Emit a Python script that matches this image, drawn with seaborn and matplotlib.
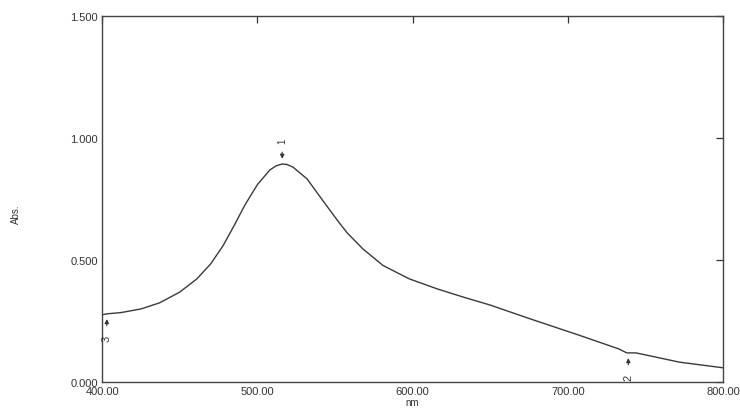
import matplotlib
matplotlib.use("Agg")
import matplotlib.pyplot as plt
import seaborn as sns
import pandas as pd

wavelength = [400, 403, 412, 425, 437, 450, 461, 470, 478, 485, 492, 500, 508,
              512, 516, 519, 523, 532, 543, 553, 558, 568, 581, 598, 616, 633,
              650, 676, 708, 733, 738, 744, 772, 800]
absorbance = [0.275, 0.279, 0.284, 0.299, 0.324, 0.368, 0.422, 0.484, 0.559,
              0.640, 0.725, 0.808, 0.868, 0.885, 0.893, 0.891, 0.880, 0.832,
              0.736, 0.650, 0.610, 0.545, 0.477, 0.422, 0.381, 0.347, 0.315,
              0.258, 0.190, 0.135, 0.119, 0.119, 0.081, 0.058]
x_ticks = [400, 500, 600, 700, 800]
x_tick_labels = ["400.00", "500.00", "600.00", "700.00", "800.00"]
y_ticks = [0.0, 0.5, 1.0, 1.5]
y_tick_labels = ["0.000", "0.500", "1.000", "1.500"]
peak_labels = ["1", "2", "3"]
peak_nm = [516, 739, 403]
peak_abs = [0.893, 0.119, 0.279]

sns.set_style("white")
plt.rcParams['font.family'] = ['Liberation Sans', 'DejaVu Sans']

df = pd.DataFrame({"nm": wavelength, "Abs.": absorbance})

fig = plt.figure(figsize=(7.4, 4.1), dpi=100)
ax = fig.add_axes([0.138, 0.066, 0.839, 0.893])
sns.lineplot(data=df, x="nm", y="Abs.", ax=ax, color="#3a3a3a", linewidth=1.0)

ax.set_xlim(400, 800)
ax.set_ylim(0, 1.5)
ax.set_xticks(x_ticks)
ax.set_xticklabels(x_tick_labels)
ax.set_yticks(y_ticks)
ax.set_yticklabels(y_tick_labels)
ax.tick_params(direction="in", length=5, width=0.9, labelsize=8, colors="#333333",
               top=True, right=True, pad=3)
for s in ax.spines.values():
    s.set_color("#444444")
    s.set_linewidth(1.0)
ax.set_xlabel("nm", fontsize=7, color="#333333", labelpad=1)
ax.set_ylabel("Abs.", fontsize=7, color="#333333")
ax.yaxis.set_label_coords(-0.13, 0.46)

# peak markers
for lab, xn, ya in zip(peak_labels, peak_nm, peak_abs):
    if lab == "1":
        ax.annotate("", xy=(xn, ya + 0.01), xytext=(xn, ya + 0.06),
                    arrowprops=dict(arrowstyle="-|>", color="#333333", lw=0.8,
                                    mutation_scale=6))
        ax.text(xn, ya + 0.095, lab, rotation=90, ha="center", va="center",
                fontsize=7, color="#333333")
    else:
        ax.annotate("", xy=(xn, ya - 0.01), xytext=(xn, ya - 0.06),
                    arrowprops=dict(arrowstyle="-|>", color="#333333", lw=0.8,
                                    mutation_scale=6))
        ax.text(xn, ya - 0.1, lab, rotation=90, ha="center", va="center",
                fontsize=8, color="#333333")

fig.savefig("out.png", dpi=100)
